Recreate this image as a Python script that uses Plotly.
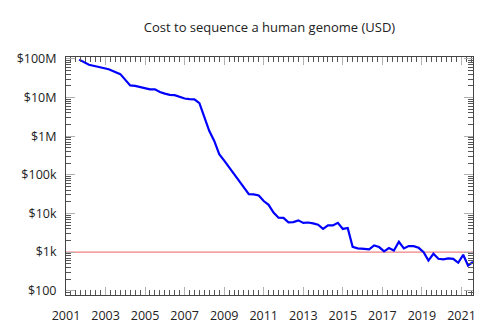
import plotly.graph_objects as go

# ---- data (NHGRI cost per genome, USD) ----
dates = [
    "2001-09-01", "2002-03-01", "2002-09-01", "2003-03-01", "2003-10-01",
    "2004-01-01", "2004-04-01", "2004-07-01", "2004-10-01",
    "2005-01-01", "2005-04-01", "2005-07-01", "2005-10-01",
    "2006-01-01", "2006-04-01", "2006-07-01", "2006-10-01",
    "2007-01-01", "2007-04-01", "2007-07-01", "2007-10-01",
    "2008-01-01", "2008-04-01", "2008-07-01", "2008-10-01",
    "2009-01-01", "2009-04-01", "2009-07-01", "2009-10-01",
    "2010-01-01", "2010-04-01", "2010-07-01", "2010-10-01",
    "2011-01-01", "2011-04-01", "2011-07-01", "2011-10-01",
    "2012-01-01", "2012-04-01", "2012-07-01", "2012-10-01",
    "2013-01-01", "2013-04-01", "2013-07-01", "2013-10-01",
    "2014-01-01", "2014-04-01", "2014-07-01", "2014-10-01",
    "2015-01-01", "2015-04-01", "2015-07-01", "2015-10-01",
    "2016-02-01", "2016-05-01", "2016-08-01", "2016-11-01",
    "2017-02-01", "2017-05-01", "2017-08-01", "2017-11-01",
    "2018-02-01", "2018-05-01", "2018-08-01", "2018-11-01",
    "2019-02-01", "2019-05-01", "2019-08-01", "2019-11-01",
    "2020-02-01", "2020-05-01", "2020-08-01", "2020-11-01",
    "2021-02-01", "2021-05-01", "2021-08-01",
]
cost = [
    95263072, 70175437, 61448422, 53751684, 40153981,
    28780376, 20442576, 19934346, 18519312,
    17534970, 16159699, 16180224, 13801124,
    12585659, 11732535, 11455315, 10474556,
    9408739, 9047003, 8927342, 7147571,
    3063820, 1352982, 752080, 342502,
    232735, 154714, 108065, 70333,
    46774, 31512, 31125, 29092,
    20963, 16712, 10497, 7743,
    7666, 5901, 5985, 6618,
    5671, 5826, 5550, 5096,
    4008, 4920, 4905, 5731,
    3970, 4211, 1363, 1245,
    1210, 1170, 1490, 1350,
    1040, 1270, 1100, 1850,
    1240, 1430, 1430, 1290,
    1000, 605, 905, 670,
    648, 685, 670, 530,
    850, 450, 555,
]
reference_level = 1000

y_tickvals = [100, 1e3, 1e4, 1e5, 1e6, 1e7, 1e8]
y_ticktext = ["$100", "$1k", "$10k", "$100k", "$1M", "$10M", "$100M"]

title_text = "Cost to sequence a human genome (USD)"

font_family = "Open Sans, Noto Sans, DejaVu Sans, sans-serif"

fig = go.Figure()
fig.add_trace(go.Scatter(
    x=dates, y=cost, mode="lines",
    line=dict(color="#0000ff", width=2.2),
    showlegend=False, hoverinfo="x+y",
))
fig.add_hline(y=reference_level, line=dict(color="#f08080", width=1.2), layer="below")

fig.update_layout(
    width=500, height=334,
    margin=dict(l=66, r=27, t=57, b=39, autoexpand=False),
    paper_bgcolor="white", plot_bgcolor="white",
    font=dict(family=font_family, size=12, color="#222"),
    title=dict(text=title_text, x=(66 + 473) / 2 / 500, xanchor="center",
               y=1 - 27 / 334, yanchor="middle",
               font=dict(size=13, color="#222")),
    showlegend=False,
)
fig.update_xaxes(
    type="date",
    range=["2001-01-01", dates[-1]],
    tick0="2001-01-01", dtick="M24", tickformat="%Y",
    ticks="inside", ticklen=8, tickcolor="#b0b0b0", tickwidth=1,
    minor=dict(ticks="inside", ticklen=5, tickcolor="#555", dtick="M3", tick0="2001-01-01"),
    showline=True, linecolor="#444", linewidth=1, mirror="ticks",
    showgrid=False, zeroline=False, automargin=False,
    ticklabelstandoff=9,
    tickfont=dict(size=12.5, color="#222"),
)
fig.update_yaxes(
    type="log",
    range=[1.89, 8.047],
    tickvals=y_tickvals, ticktext=y_ticktext,
    ticks="inside", ticklen=9, tickcolor="#b0b0b0", tickwidth=1,
    minor=dict(ticks="inside", ticklen=5, tickcolor="#555", dtick="D1"),
    showline=True, linecolor="#444", linewidth=1, mirror="ticks",
    showgrid=False, zeroline=False, automargin=False,
    ticklabelstandoff=6,
    tickfont=dict(size=12.5, color="#222"),
)

fig.write_html("out.html")
